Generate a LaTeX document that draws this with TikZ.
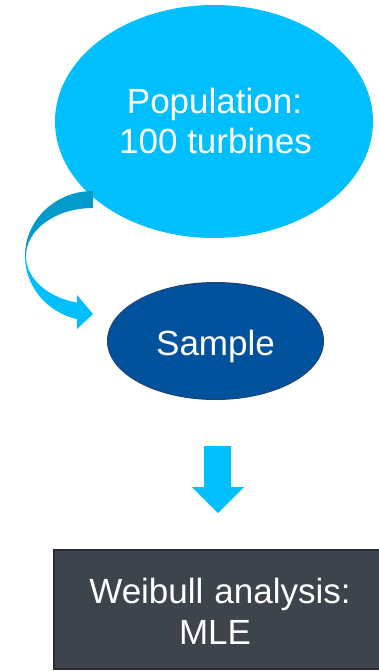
\documentclass[tikz,border=0pt]{standalone}
\usepackage{fontspec}
\setmainfont{Liberation Sans}
\usetikzlibrary{shapes.geometric}
\definecolor{popblue}{HTML}{00BFFF}
\definecolor{bandd}{HTML}{009BCB}
\definecolor{sampleblue}{HTML}{00529C}
\definecolor{sampleedge}{HTML}{1C4476}
\definecolor{rectgray}{HTML}{3E444C}
\definecolor{rectedge}{HTML}{2A2E34}
\begin{document}
\begin{tikzpicture}[x=1pt,y=-1pt,
  txt/.style={text=white,font=\fontsize{35}{41}\selectfont,inner sep=0pt},
  ell/.style={ellipse,inner sep=0pt}]
\useasboundingbox (0,0) rectangle (378,671);
\fill[white] (0,0) rectangle (378,671);
% population
\node[ell,fill=popblue,minimum width=318pt,minimum height=233pt] (pop) at (214,121.5) {};
\node[txt,anchor=base] (poptxta) at (214.5,114) {Population:};
\node[txt,anchor=base] (poptxtb) at (215.5,153.5) {100 turbines};
% curved arrow
\fill[bandd] (93,191) arc[start angle=270,end angle=180,x radius=68,y radius=65]
  -- (26,256) arc[start angle=180,end angle=270,x radius=67,y radius=48] -- cycle;
\fill[popblue] (25,256) arc[start angle=180,end angle=103.6,x radius=68,y radius=65]
  -- (77,329) -- (93,314) -- (77,295) -- (77,302.6)
  arc[start angle=103.8,end angle=180,x radius=67,y radius=48] -- cycle;
% sample
\node[ell,fill=sampleblue,draw=sampleedge,line width=1pt,minimum width=216pt,minimum height=117pt] (samp) at (215.5,341) {};
\node[txt,anchor=base] (samptxt) at (215.5,355) {Sample};
% down arrow
\fill[popblue] (204,446) -- (231,446) -- (231,487) -- (244,487) -- (218,513) -- (192,487) -- (204,487) -- cycle;
% weibull box
\node[draw=rectedge,fill=rectgray,line width=1.5pt,minimum width=327pt,minimum height=119pt,inner sep=0pt] (weib) at (217.5,609.5) {};
\node[txt,anchor=base] (weibtxta) at (220,603) {Weibull\hspace{11pt}analysis:};
\node[txt,anchor=base] (weibtxtb) at (215,644) {MLE};
\end{tikzpicture}
\end{document}
